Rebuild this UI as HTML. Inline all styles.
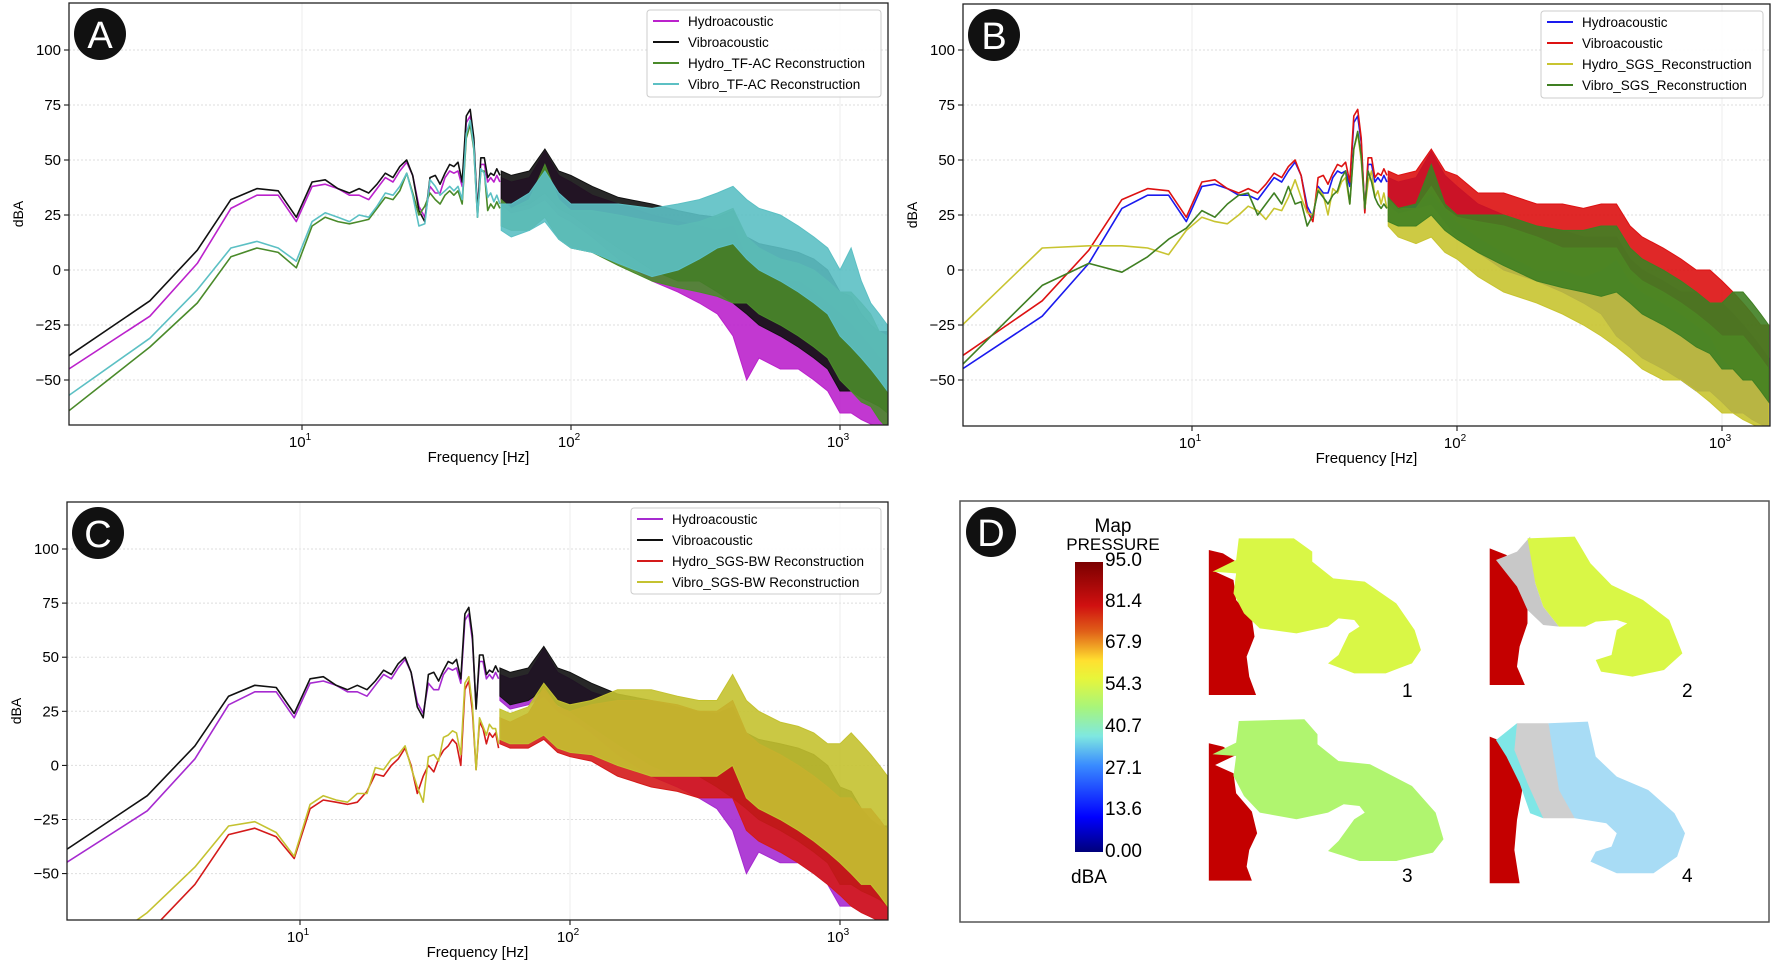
<!DOCTYPE html>
<html><head><meta charset="utf-8"><title>Spectra</title>
<style>
html,body{margin:0;padding:0;background:#fff;}
svg{display:block;font-family:"Liberation Sans",sans-serif;}
</style></head>
<body>
<svg id="fig" width="1772" height="976" viewBox="0 0 1772 976" xmlns="http://www.w3.org/2000/svg">
<defs>
<linearGradient id="jet" x1="0" y1="1" x2="0" y2="0">
<stop offset="0" stop-color="#00007a"/><stop offset="0.12" stop-color="#0000ff"/><stop offset="0.3" stop-color="#3a8cff"/><stop offset="0.4" stop-color="#7fe8e0"/><stop offset="0.5" stop-color="#a8f57a"/><stop offset="0.6" stop-color="#e8f53a"/><stop offset="0.66" stop-color="#ffe030"/><stop offset="0.76" stop-color="#e06018"/><stop offset="0.85" stop-color="#d01010"/><stop offset="1" stop-color="#7a0000"/>
</linearGradient>
</defs>
<g id="panels"></g>
<g id="panelD">
<rect x="960" y="501" width="809" height="421" fill="#fff" stroke="#555" stroke-width="1.5"/>
<circle cx="991" cy="532" r="25" fill="#111"/>
<text x="991" y="546" font-size="38" fill="#fff" text-anchor="middle">D</text>
<text x="1113" y="532" font-size="19" text-anchor="middle">Map</text>
<text x="1113" y="550" font-size="17" text-anchor="middle">PRESSURE</text>
<rect x="1075" y="562" width="28" height="290" fill="url(#jet)"/>
<g font-size="19">
<text x="1105" y="566">95.0</text><text x="1105" y="607">81.4</text><text x="1105" y="648">67.9</text><text x="1105" y="690">54.3</text><text x="1105" y="732">40.7</text><text x="1105" y="774">27.1</text><text x="1105" y="815">13.6</text><text x="1105" y="857">0.00</text>
</g>
<text x="1089" y="883" font-size="19" text-anchor="middle">dBA</text>
<g transform="translate(950,490) scale(0.525,0.3333)">
 <g>
  <polygon fill="#c40000" points="493,180 520,190 545,215 505,245 540,270 545,330 575,385 580,440 565,500 570,560 583,615 493,615"/>
  <path fill="#d9f746" d="M550,145 L655,145 L690,185 L690,215 L730,265 L790,275 L850,340 L885,420 L897,480 L880,520 L830,550 L770,550 L720,520 L740,495 L760,430 L780,410 L770,390 L740,385 L720,410 L660,430 L590,415 L560,370 L540,310 L545,250 L500,245 L545,210 Z"/>
 </g>
 <g>
  <polygon fill="#c40000" points="1028,175 1060,195 1085,260 1100,330 1100,400 1085,470 1080,530 1095,585 1028,585"/>
  <polygon fill="#c8c8c8" points="1080,185 1105,140 1115,280 1130,350 1160,410 1130,405 1100,360 1080,290 1040,210"/>
  <polygon fill="#d9f746" points="1100,145 1190,140 1220,220 1260,285 1320,330 1370,390 1395,490 1360,540 1300,560 1240,545 1230,510 1260,495 1270,420 1290,400 1270,390 1230,395 1210,410 1160,410 1130,350 1115,280"/>
 </g>
 <g>
  <polygon fill="#c40000" points="493,760 520,770 545,795 505,825 540,850 545,910 575,965 585,1030 570,1080 565,1130 575,1172 493,1172"/>
  <path fill="#b0f56f" transform="translate(0,548)" d="M550,145 L675,140 L700,185 L700,215 L740,265 L800,275 L880,340 L925,420 L940,500 L920,540 L850,565 L780,565 L720,535 L740,505 L770,440 L790,420 L780,400 L750,395 L720,420 L660,440 L590,420 L560,370 L540,310 L545,250 L500,245 L545,210 Z"/>
 </g>
 <g>
  <polygon fill="#c40000" points="1028,740 1060,760 1080,820 1090,900 1080,990 1075,1080 1085,1180 1028,1180"/>
  <polygon fill="#7fe6e6" points="1040,750 1080,700 1130,985 1105,970 1085,880 1060,800"/>
  <polygon fill="#cfcfcf" points="1080,700 1140,700 1190,985 1130,985 1100,880 1075,780"/>
  <polygon fill="#a8dcf5" points="1140,700 1215,695 1230,800 1270,860 1330,900 1380,970 1400,1030 1385,1100 1340,1150 1270,1150 1220,1115 1230,1085 1260,1070 1270,1030 1250,1000 1190,985 1160,900"/>
 </g>
</g>
<g font-size="19">
<text x="1402" y="697">1</text><text x="1682" y="697">2</text><text x="1402" y="882">3</text><text x="1682" y="882">4</text>
</g>
</g>
</svg>
<script>
// ---------- data ----------
const freqLow = [1.36,2.72,4.08,5.44,6.8,8.16,9.52,10.9,12.2,13.6,15,16.3,17.7,19,20.4,21.8,23.1,24.5,25.8,27.2,28.6,29.9,31.3,32.6,34,35.4,36.7,38,39.4,40.8,42.2,43.5,44.9,46.2,47.6,49,50.3,51.7,53,54.4];
const freqBand = [55,60,70,80,90,100,120,150,200,250,300,350,400,450,500,600,700,800,900,1000,1100,1200,1300,1400,1500];
const yTicks = [-50,-25,0,25,50,75,100];
const xDecades = [1,2,3];

const hydroLow = [-45,-21,3,28,34,34,22,38,39,37,34,34,32,37,42,40,45,49,43,29,24,38,35,35,42,45,44,45,38,67,70,58,27,48,48,40,42,40,43,40];
const vibroLow = [-39,-14,9,32,37,36,24,40,41,37,35,37,35,39,44,42,47,50,43,27,22,42,43,39,44,48,47,49,40,70,73,60,26,51,51,42,44,43,46,43];
const hydroHi = [42,40,42,54,43,40,34,30,25,22,20,18,20,5,0,-5,-5,-10,-15,-20,-25,-30,-35,-40,-40];
const hydroLo = [30,26,28,32,25,22,15,5,-5,-10,-15,-20,-30,-50,-40,-45,-45,-50,-55,-65,-65,-68,-70,-72,-72];
const vibroHi = [45,43,45,55,45,43,38,33,30,27,25,24,27,15,12,10,8,5,0,-10,-12,-20,-25,-28,-28];
const vibroLo = [32,28,30,35,28,25,18,10,0,-5,-5,-10,-15,-20,-25,-30,-35,-40,-45,-55,-55,-58,-60,-62,-65];

const aHydroTfLow = [-64,-35,-15,6,10,8,1,20,24,22,21,22,23,28,33,32,36,44,35,25,29,35,32,30,34,36,34,36,30,60,66,55,24,45,45,27,30,28,31,28];
const aHydroTfHi = [32,28,32,48,32,27,27,25,22,20,22,25,28,15,10,5,3,0,-5,-10,-10,-15,-20,-28,-30];
const aHydroTfLo = [20,18,18,24,14,10,8,2,-5,-8,-10,-12,-15,-15,-20,-25,-30,-35,-40,-50,-55,-60,-62,-68,-72];
const aVibroTfLow = [-57,-31,-9,10,13,10,4,22,26,24,22,25,24,29,35,34,38,44,34,20,21,41,38,34,36,38,36,38,32,62,68,56,24,46,44,33,35,31,34,30];
const aVibroTfHi = [30,30,35,45,35,30,30,30,28,30,32,35,38,32,28,25,20,15,10,0,10,-5,-15,-20,-25];
const aVibroTfLo = [18,15,18,22,14,10,8,3,-3,0,5,10,12,5,0,-5,-10,-15,-20,-30,-35,-40,-45,-50,-55];

const bVibroHi = [45,43,45,55,45,43,35,35,30,30,28,30,30,20,15,10,5,0,0,-5,-10,-15,-20,-25,-25];
const bVibroLo = [32,28,30,35,28,22,15,8,0,0,-3,0,5,-5,-10,-15,-20,-25,-30,-40,-45,-50,-50,-55,-60];
const bHydroHi = [42,40,42,54,43,38,30,25,20,18,15,15,15,5,0,-5,-10,-10,-15,-15,-20,-25,-30,-35,-40];
const bHydroLo = [30,26,28,30,22,15,8,0,-5,-10,-15,-20,-30,-35,-40,-45,-50,-55,-55,-60,-65,-65,-68,-70,-72];
const bHydroSgsLow = [-25,10,11,11,10,7,18,24,22,21,25,29,27,23,28,27,33,41,33,26,25,37,34,25,37,35,40,42,30,55,62,50,28,40,45,33,36,30,35,28];
const bHydroSgsHi = [32,28,28,38,28,24,22,20,15,10,10,10,10,0,-5,-10,-15,-20,-25,-30,-30,-30,-35,-40,-45];
const bHydroSgsLo = [20,15,12,15,8,5,-3,-10,-15,-20,-25,-30,-35,-40,-45,-50,-50,-55,-60,-65,-65,-68,-70,-72,-72];
const bVibroSgsLow = [-43,-7,3,-1,6,14,19,27,24,30,34,35,25,30,35,30,38,30,31,20,25,36,33,30,34,36,42,45,30,55,63,52,28,45,40,33,30,28,30,28];
const bVibroSgsHi = [33,28,30,48,30,25,25,25,20,18,18,20,20,10,5,0,-5,-10,-15,-15,-10,-10,-15,-20,-25];
const bVibroSgsLo = [22,20,20,25,18,14,8,2,-5,-8,-10,-12,-10,-15,-20,-25,-30,-35,-38,-45,-45,-50,-50,-55,-60];

const cHydroBwLow = [-100,-78,-55,-32,-29,-33,-43,-20,-16,-17,-18,-17,-12,-4,-5,0,3,8,0,-13,-5,0,-3,3,7,9,12,10,0,35,39,25,-2,20,17,10,15,13,15,8];
const cHydroBwHi = [22,20,24,36,27,25,28,30,30,28,25,25,30,15,10,5,0,-5,-10,-15,-15,-20,-20,-25,-30];
const cHydroBwLo = [10,8,8,12,6,4,2,-5,-10,-12,-15,-15,-15,-30,-35,-40,-45,-50,-55,-60,-65,-68,-70,-72,-72];
const cVibroBwLow = [-95,-68,-47,-28,-26,-31,-42,-18,-14,-16,-17,-13,-13,-1,-2,3,5,9,-1,-10,-17,4,5,2,13,14,16,15,5,38,41,28,-2,22,18,14,19,17,17,10];
const cVibroBwHi = [26,24,27,38,30,28,30,35,35,32,30,30,42,30,25,20,18,15,10,10,15,10,5,0,-5];
const cVibroBwLo = [12,10,10,14,8,6,5,0,-5,-5,-5,-5,0,-15,-20,-25,-30,-35,-40,-45,-50,-55,-55,-60,-65];

// ---------- drawing ----------
const NS = 'http://www.w3.org/2000/svg';
function mk(tag, attrs, parent){const e=document.createElementNS(NS,tag);for(const k in attrs)e.setAttribute(k,attrs[k]);if(parent)parent.appendChild(e);return e;}

const panels = [
 {id:'a', letter:'A', left:69, right:888, top:3, bottom:425, x10:302, dec:269, y0:270, k:2.2,
  legend:{x:647,y:10,w:234,h:87}, series:[
   {name:'Hydroacoustic',color:'#bb22cc',low:hydroLow,hi:hydroHi,lo:hydroLo},
   {name:'Vibroacoustic',color:'#111111',low:vibroLow,hi:vibroHi,lo:vibroLo},
   {name:'Hydro_TF-AC Reconstruction',color:'#4a8a2a',low:aHydroTfLow,hi:aHydroTfHi,lo:aHydroTfLo},
   {name:'Vibro_TF-AC Reconstruction',color:'#5cc0c4',low:aVibroTfLow,hi:aVibroTfHi,lo:aVibroTfLo}]},
 {id:'b', letter:'B', left:963, right:1770, top:4, bottom:426, x10:1192, dec:265, y0:270, k:2.2,
  legend:{x:1541,y:11,w:222,h:87}, series:[
   {name:'Hydroacoustic',color:'#1a1aee',low:hydroLow,hi:bHydroHi,lo:bHydroLo},
   {name:'Vibroacoustic',color:'#dd1111',low:vibroLow,hi:bVibroHi,lo:bVibroLo},
   {name:'Hydro_SGS_Reconstruction',color:'#c8c430',low:bHydroSgsLow,hi:bHydroSgsHi,lo:bHydroSgsLo},
   {name:'Vibro_SGS_Reconstruction',color:'#3f7f22',low:bVibroSgsLow,hi:bVibroSgsHi,lo:bVibroSgsLo}]},
 {id:'c', letter:'C', left:67, right:888, top:502, bottom:920, x10:300, dec:270, y0:765.4, k:2.164,
  legend:{x:631,y:508,w:250,h:86}, series:[
   {name:'Hydroacoustic',color:'#a62ad0',low:hydroLow,hi:hydroHi,lo:hydroLo},
   {name:'Vibroacoustic',color:'#111111',low:vibroLow,hi:vibroHi,lo:vibroLo},
   {name:'Hydro_SGS-BW Reconstruction',color:'#d41a1a',low:cHydroBwLow,hi:cHydroBwHi,lo:cHydroBwLo},
   {name:'Vibro_SGS-BW Reconstruction',color:'#c4c230',low:cVibroBwLow,hi:cVibroBwHi,lo:cVibroBwLo}]}
];

const root = document.getElementById('panels');
const defs = document.querySelector('defs');
panels.forEach(P=>{
 const xs = f => P.x10 + (Math.log10(f)-1)*P.dec;
 const ys = v => P.y0 - v*P.k;
 const g = mk('g',{},root);
 
 
 const cp = mk('clipPath',{id:'clip-'+P.id},defs);
 mk('rect',{x:P.left,y:P.top,width:P.right-P.left,height:P.bottom-P.top},cp);
 const grid = mk('g',{stroke:'#dedede','stroke-width':1,'stroke-dasharray':'2,2'},g);
 
 
 yTicks.forEach(t=>{mk('line',{x1:P.left,x2:P.right,y1:ys(t),y2:ys(t)},grid);});
 xDecades.forEach(d=>{const x=P.x10+(d-1)*P.dec;mk('line',{x1:x,x2:x,y1:P.top,y2:P.bottom,'stroke-dasharray':'none',stroke:'#ececec'},grid);});
 yTicks.forEach(t=>{
  const y=ys(t);
  mk('line',{x1:P.left-5,x2:P.left,y1:y,y2:y,stroke:'#000'},g);
  const tx=mk('text',{x:P.left-8,y:y+5,'font-size':15,'text-anchor':'end'},g);
  tx.textContent = t<0 ? '\u2212'+Math.abs(t) : String(t);
  
  
 });
 xDecades.forEach(d=>{
  const x=P.x10+(d-1)*P.dec;
  mk('line',{x1:x,x2:x,y1:P.bottom,y2:P.bottom+5,stroke:'#000'},g);
  const tx=mk('text',{x:x-2,y:P.bottom+22,'font-size':15,'text-anchor':'middle'},g);
  
  
  tx.appendChild(document.createTextNode('10'));
  const sup=mk('tspan',{dy:-7,'font-size':10},tx); sup.textContent=String(d);
 });
 const xl=mk('text',{x:(P.left+P.right)/2,y:P.bottom+37,'font-size':15,'text-anchor':'middle'},g);
 xl.textContent='Frequency [Hz]';
 
 
 const ym=(P.top+P.bottom)/2;
 const yl=mk('text',{x:P.left-46,y:ym,'font-size':14,'text-anchor':'middle',transform:'rotate(-90 '+(P.left-46)+' '+ym+')'},g);
 yl.textContent='dBA';
 
 
 const sg=mk('g',{'clip-path':'url(#clip-'+P.id+')'},g);
 P.series.forEach((s,i)=>{
  const sgi=mk('g',{},sg);
  
  
  let d='';
  freqLow.forEach((f,j)=>{d+=(j?'L':'M')+xs(f).toFixed(1)+','+ys(s.low[j]).toFixed(1);});
  mk('path',{d:d,fill:'none',stroke:s.color,'stroke-width':1.6,'stroke-linejoin':'round'},sgi);
  let b='';
  freqBand.forEach((f,j)=>{b+=(j?'L':'M')+xs(f).toFixed(1)+','+ys(s.hi[j]).toFixed(1);});
  for(let j=freqBand.length-1;j>=0;j--){b+='L'+xs(freqBand[j]).toFixed(1)+','+ys(s.lo[j]).toFixed(1);}
  b+='Z';
  mk('path',{d:b,fill:s.color,'fill-opacity':0.9,stroke:s.color,'stroke-width':1},sgi);
 });
 const fr=mk('rect',{x:P.left,y:P.top,width:P.right-P.left,height:P.bottom-P.top,fill:'none',stroke:'#222','stroke-width':1.3},g);
 
 
 const L=P.legend;
 const lg=mk('g',{},g);
 
 
 mk('rect',{x:L.x,y:L.y,width:L.w,height:L.h,rx:3,fill:'#fff','fill-opacity':0.9,stroke:'#ccc'},lg);
 P.series.forEach((s,i)=>{
  const yy=L.y+11+i*21;
  const le=mk('g',{},lg);
  
  
  mk('line',{x1:L.x+6,x2:L.x+32,y1:yy,y2:yy,stroke:s.color,'stroke-width':2},le);
  const t=mk('text',{x:L.x+41,y:yy+5,'font-size':13.5},le);
  t.textContent=s.name;
 });
 const bc=mk('circle',{cx:P.left+31,cy:P.top+31,r:26,fill:'#111'},g);
 
 
 const bt=mk('text',{x:P.left+31,y:P.top+45,'font-size':38,fill:'#fff','text-anchor':'middle'},g);
 bt.textContent=P.letter;
 
 
});
</script>
</body></html>
